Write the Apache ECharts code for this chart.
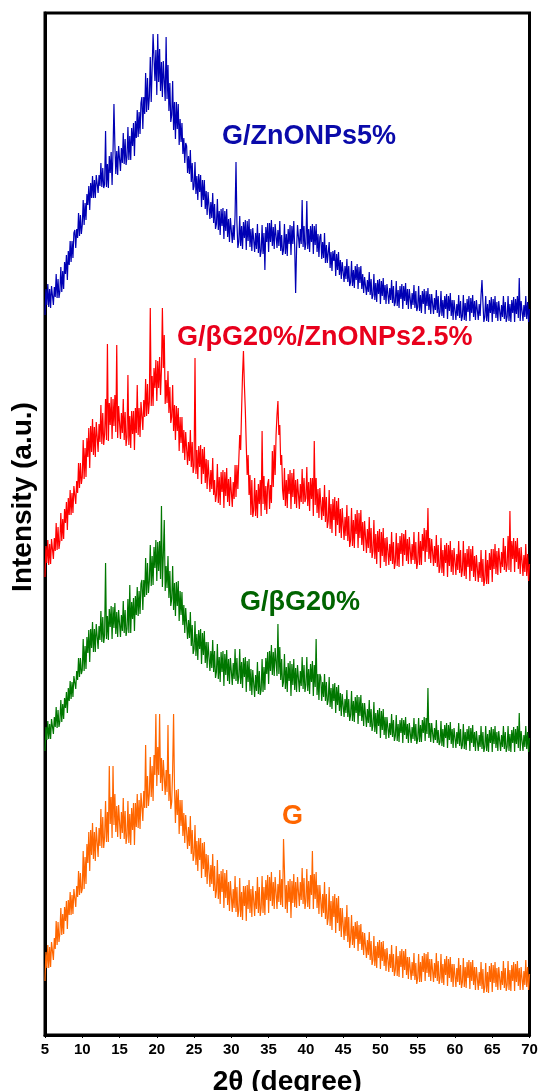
<!DOCTYPE html>
<html>
<head>
<meta charset="utf-8">
<title>XRD patterns</title>
<script src="https://cdn.jsdelivr.net/npm/echarts@6/dist/echarts.min.js"></script>
<style>
  html, body { margin: 0; padding: 0; background: #fff; }
  #chart { width: 539px; height: 1091px; }
</style>
</head>
<body>
<div id="chart"></div>
<script>
// scan grid: 5..70 deg, 0.125 deg step (one row of 8 readings per degree below)
const scanStart = 5;
const scanStep = 0.125;
const xTicks = [5, 10, 15, 20, 25, 30, 35, 40, 45, 50, 55, 60, 65, 70];

// intensities (a.u., vertical offsets of the stack included)
const gZnO5 = [
  720, 746, 730, 751, 728, 746, 727, 749,
  750, 730, 748, 738, 761, 737, 756, 737,
  744, 768, 743, 764, 746, 773, 761, 780,
  755, 784, 770, 794, 773, 794, 777, 802,
  805, 787, 806, 797, 822, 799, 820, 801,
  810, 835, 810, 832, 815, 841, 830, 849,
  825, 852, 837, 859, 837, 855, 837, 860,
  862, 842, 860, 849, 872, 848, 867, 847,
  851, 904, 848, 871, 847, 879, 862, 883,
  850, 883, 931, 890, 861, 884, 860, 889,
  890, 864, 887, 872, 902, 871, 896, 870,
  878, 908, 875, 899, 875, 907, 889, 912,
  879, 914, 897, 925, 898, 923, 901, 932,
  938, 906, 938, 921, 962, 923, 957, 925,
  938, 978, 933, 967, 1001, 977, 954, 985,
  940, 1001, 953, 986, 944, 973, 938, 974,
  973, 934, 998, 936, 970, 924, 952, 913,
  920, 954, 905, 933, 896, 933, 906, 931,
  890, 916, 893, 912, 881, 897, 872, 892,
  889, 862, 879, 861, 885, 853, 872, 845,
  849, 873, 841, 859, 835, 861, 843, 860,
  828, 855, 835, 855, 826, 844, 820, 843,
  841, 816, 833, 817, 842, 812, 831, 806,
  811, 836, 805, 824, 800, 826, 809, 827,
  796, 824, 804, 826, 798, 816, 793, 817,
  816, 792, 810, 795, 820, 873, 812, 787,
  793, 819, 789, 809, 786, 813, 797, 815,
  785, 814, 794, 816, 788, 806, 784, 807,
  807, 783, 802, 786, 811, 782, 802, 778,
  784, 810, 781, 802, 765, 808, 793, 812,
  783, 812, 793, 815, 789, 808, 786, 811,
  811, 787, 805, 789, 814, 784, 800, 780,
  785, 811, 781, 801, 779, 806, 791, 810,
  780, 809, 791, 814, 788, 742, 786, 810,
  811, 787, 806, 791, 835, 788, 809, 785,
  791, 834, 786, 806, 783, 809, 793, 811,
  781, 809, 790, 811, 783, 801, 778, 798,
  801, 776, 793, 777, 802, 772, 790, 772,
  773, 793, 767, 783, 764, 784, 774, 785,
  759, 781, 765, 783, 760, 775, 756, 773,
  774, 753, 769, 756, 776, 753, 769, 749,
  753, 774, 749, 765, 747, 769, 755, 771,
  746, 768, 752, 769, 746, 761, 742, 758,
  760, 740, 755, 743, 763, 740, 756, 736,
  740, 761, 735, 752, 733, 755, 741, 756,
  731, 754, 739, 757, 735, 750, 731, 751,
  751, 731, 747, 735, 755, 732, 749, 729,
  733, 754, 729, 745, 727, 749, 736, 751,
  726, 749, 734, 752, 730, 746, 726, 746,
  746, 726, 742, 730, 750, 727, 744, 724,
  728, 749, 724, 740, 722, 744, 731, 746,
  721, 744, 729, 747, 725, 741, 721, 741,
  741, 721, 737, 725, 745, 722, 739, 718,
  723, 744, 719, 735, 717, 739, 726, 741,
  716, 739, 724, 742, 719, 735, 715, 735,
  735, 715, 731, 719, 740, 717, 734, 714,
  719, 740, 715, 732, 714, 736, 723, 739,
  714, 737, 722, 740, 718, 734, 715, 735,
  735, 715, 731, 719, 740, 755, 733, 713,
  718, 739, 714, 731, 713, 735, 722, 738,
  713, 736, 721, 739, 717, 733, 714, 734,
  734, 714, 730, 718, 739, 716, 733, 713,
  718, 739, 714, 731, 713, 735, 722, 738,
  713, 736, 721, 739, 717, 757, 714, 734,
  734, 714, 730, 718, 739, 716, 733, 713,
  726
];

const gBG20ZnO25 = [
  458, 489, 472, 495, 470, 491, 471, 496,
  498, 476, 497, 484, 512, 485, 508, 486,
  494, 522, 494, 516, 496, 526, 512, 533,
  505, 537, 520, 545, 520, 542, 522, 549,
  551, 531, 554, 542, 572, 547, 572, 551,
  558, 595, 556, 587, 558, 597, 578, 607,
  567, 609, 583, 616, 580, 608, 578, 613,
  614, 583, 611, 593, 630, 591, 622, 590,
  601, 636, 595, 691, 594, 632, 610, 638,
  596, 636, 609, 640, 603, 690, 597, 629,
  629, 596, 622, 602, 636, 595, 623, 589,
  598, 660, 590, 619, 587, 624, 601, 624,
  585, 627, 602, 650, 600, 627, 598, 633,
  635, 605, 635, 618, 656, 619, 651, 621,
  633, 727, 629, 659, 629, 667, 647, 675,
  634, 674, 647, 678, 640, 666, 727, 667,
  700, 631, 655, 632, 664, 622, 648, 612,
  618, 650, 604, 630, 595, 629, 604, 627,
  584, 618, 592, 618, 582, 605, 575, 603,
  601, 570, 593, 574, 605, 568, 593, 562,
  569, 677, 561, 585, 556, 589, 568, 590,
  551, 586, 561, 588, 552, 576, 546, 575,
  574, 543, 565, 546, 577, 540, 555, 533,
  540, 571, 532, 558, 530, 563, 543, 565,
  527, 563, 539, 567, 533, 556, 529, 558,
  558, 528, 553, 536, 570, 538, 570, 546,
  575, 600, 585, 625, 660, 684, 650, 625,
  590, 560, 580, 540, 560, 520, 555, 518,
  525, 557, 519, 545, 517, 551, 531, 555,
  519, 604, 531, 559, 525, 549, 521, 551,
  556, 526, 550, 532, 584, 548, 590, 560,
  600, 620, 634, 600, 610, 570, 580, 545,
  535, 567, 529, 555, 527, 561, 541, 565,
  526, 562, 538, 566, 531, 555, 527, 556,
  556, 526, 551, 533, 566, 531, 557, 533,
  537, 568, 529, 553, 524, 557, 536, 557,
  519, 594, 530, 557, 522, 546, 517, 547,
  546, 515, 538, 519, 550, 513, 538, 507,
  514, 545, 506, 531, 502, 536, 515, 538,
  499, 534, 510, 537, 502, 526, 497, 527,
  526, 495, 518, 499, 530, 494, 519, 488,
  495, 527, 489, 515, 487, 521, 501, 525,
  487, 522, 497, 525, 490, 513, 484, 514,
  513, 482, 506, 487, 518, 482, 507, 477,
  484, 515, 476, 501, 471, 504, 483, 506,
  467, 503, 479, 507, 473, 497, 469, 498,
  497, 470, 491, 474, 503, 471, 493, 466,
  473, 502, 469, 492, 468, 499, 481, 502,
  469, 501, 480, 505, 474, 496, 471, 498,
  498, 471, 491, 475, 503, 471, 493, 466,
  473, 503, 470, 494, 470, 501, 484, 507,
  473, 505, 483, 527, 476, 497, 472, 496,
  497, 469, 489, 472, 500, 468, 490, 462,
  468, 497, 462, 485, 459, 490, 472, 492,
  458, 490, 469, 494, 463, 485, 460, 487,
  487, 460, 481, 465, 494, 462, 485, 458,
  465, 494, 459, 482, 456, 486, 468, 489,
  454, 486, 464, 489, 458, 479, 454, 480,
  480, 453, 473, 457, 485, 453, 476, 449,
  455, 485, 451, 475, 451, 482, 465, 486,
  453, 486, 466, 491, 461, 484, 460, 487,
  488, 462, 483, 468, 497, 465, 489, 463,
  470, 499, 465, 524, 463, 494, 476, 497,
  463, 494, 473, 497, 466, 487, 461, 488,
  487, 459, 480, 463, 491, 459, 481, 454,
  471
];

const gBG20 = [
  284, 308, 295, 314, 296, 311, 296, 316,
  318, 301, 318, 308, 328, 307, 325, 308,
  314, 335, 313, 331, 316, 337, 327, 343,
  322, 347, 334, 354, 336, 353, 338, 359,
  361, 346, 364, 355, 377, 358, 377, 361,
  365, 396, 364, 389, 366, 398, 382, 405,
  373, 406, 387, 413, 383, 406, 383, 411,
  412, 386, 409, 395, 424, 393, 418, 392,
  400, 472, 396, 419, 395, 426, 408, 429,
  396, 428, 407, 432, 401, 423, 398, 425,
  425, 398, 420, 404, 434, 402, 425, 399,
  406, 436, 402, 450, 402, 433, 416, 437,
  404, 439, 420, 448, 419, 444, 421, 451,
  455, 425, 455, 438, 477, 440, 472, 442,
  454, 490, 449, 479, 450, 488, 467, 495,
  454, 493, 464, 494, 456, 529, 448, 480,
  515, 444, 469, 447, 479, 437, 464, 429,
  436, 469, 425, 452, 419, 453, 429, 454,
  414, 444, 420, 443, 410, 430, 402, 427,
  425, 396, 415, 397, 423, 389, 410, 381,
  386, 414, 379, 401, 375, 405, 386, 406,
  371, 402, 380, 404, 372, 393, 367, 393,
  392, 364, 384, 367, 395, 363, 384, 357,
  363, 391, 356, 378, 353, 383, 363, 384,
  349, 381, 360, 385, 354, 376, 351, 377,
  377, 350, 372, 356, 386, 354, 377, 351,
  358, 386, 351, 373, 347, 377, 358, 378,
  343, 374, 353, 376, 344, 366, 340, 365,
  365, 338, 360, 344, 373, 341, 364, 340,
  345, 376, 343, 368, 345, 377, 361, 383,
  351, 384, 364, 390, 360, 383, 359, 387,
  388, 359, 411, 361, 388, 355, 376, 348,
  353, 381, 346, 368, 343, 372, 354, 374,
  339, 371, 350, 376, 345, 367, 343, 370,
  370, 343, 364, 349, 378, 346, 370, 343,
  350, 378, 344, 366, 341, 371, 353, 374,
  339, 370, 348, 396, 340, 361, 335, 361,
  358, 334, 353, 338, 361, 334, 353, 330,
  335, 358, 328, 347, 326, 351, 334, 352,
  322, 348, 330, 350, 324, 342, 319, 341,
  341, 318, 336, 322, 345, 318, 336, 314,
  320, 344, 314, 334, 313, 338, 322, 340,
  311, 338, 319, 340, 314, 332, 309, 332,
  331, 308, 326, 312, 335, 308, 326, 304,
  310, 333, 303, 322, 301, 325, 309, 327,
  297, 324, 305, 326, 300, 318, 296, 318,
  317, 297, 312, 300, 321, 298, 315, 294,
  299, 320, 294, 311, 293, 315, 302, 317,
  292, 315, 300, 318, 296, 311, 292, 312,
  312, 292, 308, 296, 317, 294, 311, 291,
  296, 317, 293, 310, 293, 315, 302, 318,
  294, 317, 301, 347, 297, 312, 293, 312,
  312, 292, 307, 295, 315, 292, 305, 290,
  293, 314, 289, 306, 288, 310, 297, 312,
  287, 310, 295, 313, 291, 306, 287, 307,
  307, 287, 303, 291, 312, 289, 306, 286,
  290, 311, 286, 303, 285, 306, 294, 309,
  284, 307, 292, 310, 288, 303, 284, 304,
  304, 284, 300, 288, 309, 286, 303, 283,
  288, 309, 284, 301, 283, 305, 292, 308,
  283, 306, 291, 309, 287, 303, 284, 304,
  304, 284, 300, 288, 309, 286, 303, 283,
  288, 309, 284, 301, 283, 305, 292, 308,
  283, 306, 291, 309, 287, 322, 284, 304,
  304, 284, 300, 288, 309, 286, 303, 283,
  297
];

const gPure = [
  54, 83, 67, 90, 67, 88, 68, 93,
  95, 75, 97, 86, 114, 90, 113, 93,
  102, 127, 100, 121, 101, 128, 114, 134,
  106, 135, 120, 143, 120, 140, 121, 146,
  148, 128, 149, 138, 164, 140, 162, 142,
  146, 184, 146, 178, 151, 191, 172, 203,
  164, 205, 180, 212, 176, 203, 174, 208,
  209, 178, 207, 189, 226, 187, 218, 187,
  198, 234, 193, 223, 193, 269, 211, 238,
  197, 269, 210, 241, 203, 229, 198, 230,
  230, 196, 223, 202, 237, 196, 224, 191,
  199, 234, 192, 221, 190, 227, 205, 232,
  190, 232, 208, 241, 207, 235, 206, 242,
  244, 214, 244, 227, 290, 227, 259, 229,
  241, 278, 238, 269, 234, 280, 260, 321,
  249, 288, 260, 321, 252, 277, 244, 275,
  275, 240, 265, 243, 310, 234, 261, 226,
  233, 265, 321, 246, 212, 245, 220, 246,
  201, 235, 209, 235, 199, 222, 192, 220,
  218, 186, 208, 189, 219, 181, 205, 174,
  180, 210, 170, 194, 164, 197, 175, 197,
  157, 192, 166, 193, 158, 181, 151, 180,
  179, 148, 170, 151, 181, 144, 169, 137,
  144, 175, 136, 161, 131, 164, 143, 166,
  127, 162, 137, 165, 130, 153, 124, 154,
  153, 123, 146, 127, 159, 123, 148, 118,
  125, 157, 118, 143, 115, 149, 129, 149,
  114, 150, 126, 155, 122, 146, 118, 149,
  149, 119, 144, 126, 158, 122, 148, 119,
  127, 159, 122, 148, 120, 155, 135, 160,
  122, 158, 134, 163, 129, 153, 126, 158,
  156, 126, 151, 133, 165, 130, 156, 128,
  196, 165, 126, 150, 122, 154, 133, 156,
  117, 154, 132, 161, 128, 153, 127, 158,
  159, 129, 153, 135, 167, 131, 157, 126,
  134, 166, 128, 154, 126, 160, 140, 184,
  126, 161, 136, 163, 127, 150, 121, 150,
  149, 118, 141, 122, 153, 116, 141, 110,
  117, 148, 109, 134, 105, 139, 118, 141,
  102, 137, 112, 139, 104, 127, 98, 127,
  126, 95, 118, 99, 130, 93, 118, 87,
  97, 120, 90, 109, 87, 113, 96, 114,
  84, 110, 91, 111, 85, 103, 80, 102,
  101, 77, 95, 80, 103, 75, 94, 70,
  75, 99, 69, 89, 67, 93, 77, 95,
  66, 93, 74, 94, 69, 86, 64, 87,
  86, 63, 81, 67, 90, 63, 81, 59,
  65, 89, 59, 79, 58, 84, 68, 86,
  57, 84, 65, 86, 60, 78, 56, 78,
  78, 55, 73, 59, 82, 55, 72, 51,
  57, 81, 53, 73, 53, 79, 63, 82,
  54, 81, 62, 83, 58, 76, 54, 76,
  76, 53, 72, 57, 82, 54, 74, 51,
  57, 81, 52, 71, 50, 76, 60, 79,
  49, 76, 57, 78, 53, 71, 48, 71,
  71, 48, 67, 53, 77, 50, 70, 47,
  53, 77, 48, 68, 47, 73, 57, 75,
  46, 73, 54, 75, 50, 68, 45, 68,
  68, 45, 63, 49, 73, 46, 66, 42,
  48, 72, 43, 63, 42, 69, 53, 72,
  43, 70, 52, 73, 48, 67, 45, 68,
  68, 45, 64, 50, 74, 47, 67, 44,
  50, 74, 45, 65, 44, 70, 54, 73,
  44, 71, 53, 74, 49, 67, 45, 68,
  68, 45, 64, 50, 75, 48, 68, 45,
  61
];

const seriesNames = ['G/ZnONPs5%', 'G/βG20%/ZnONPs2.5%', 'G/βG20%', 'G'];
const seriesData = [gZnO5, gBG20ZnO25, gBG20, gPure];
const lineColors = ['#0000b4', '#ff0000', '#007700', '#ff6600'];
const textColors = ['#0a0aaa', '#e8001c', '#006400', '#ff6600'];

const chart = echarts.init(document.getElementById('chart'));

const font = '"Liberation Sans", Arial, sans-serif';

const option = {
  animation: false,
  grid: {
    left: 45, right: 9.5, top: 13, bottom: 56,
    outerBoundsMode: 'none',
    containLabel: false,
    show: true, borderColor: '#000', borderWidth: 3, backgroundColor: 'transparent'
  },
  xAxis: {
    type: 'value',
    min: 5, max: 70, interval: 5,
    name: '2θ (degree)',
    nameLocation: 'middle',
    nameGap: 33,
    nameTextStyle: { fontFamily: font, fontWeight: 'bold', fontSize: 28, color: '#000' },
    axisLine: { lineStyle: { color: '#000', width: 3 } },
    axisTick: { show: true, length: 3, lineStyle: { color: '#000', width: 1 } },
    axisLabel: {
      fontFamily: font, fontWeight: 'bold', fontSize: 15, color: '#000', margin: 7,
      formatter: v => (xTicks.includes(v) ? String(v) : '')
    },
    splitLine: { show: false }
  },
  yAxis: {
    type: 'value',
    min: 0, max: 1022,
    name: 'Intensity (a.u.)',
    nameLocation: 'middle',
    nameGap: 8,
    nameTextStyle: {
      fontFamily: font, fontWeight: 'bold', fontSize: 28, color: '#000',
      padding: [0, 0, 0, 54]
    },
    axisLine: { show: true, lineStyle: { color: '#000', width: 3 } },
    axisTick: { show: false },
    axisLabel: { show: false },
    splitLine: { show: false }
  },
  series: seriesData.map((arr, k) => ({
    name: seriesNames[k],
    type: 'line',
    data: arr.map((v, i) => [scanStart + i * scanStep, v]),
    showSymbol: false,
    sampling: false,
    lineStyle: { color: lineColors[k], width: 1.2 },
    itemStyle: { color: lineColors[k] },
    z: 2
  })),
  graphic: [
    { type: 'text', x: 222, y: 137, style: { text: seriesNames[0], fill: textColors[0], font: 'bold 27px ' + font, verticalAlign: 'middle' } },
    { type: 'text', x: 177, y: 338, style: { text: seriesNames[1], fill: textColors[1], font: 'bold 27px ' + font, verticalAlign: 'middle' } },
    { type: 'text', x: 240, y: 603, style: { text: seriesNames[2], fill: textColors[2], font: 'bold 27px ' + font, verticalAlign: 'middle' } },
    { type: 'text', x: 282, y: 817, style: { text: seriesNames[3], fill: textColors[3], font: 'bold 27px ' + font, verticalAlign: 'middle' } }
  ]
};

chart.setOption(option);
window.addEventListener('resize', () => chart.resize());
</script>
</body>
</html>
